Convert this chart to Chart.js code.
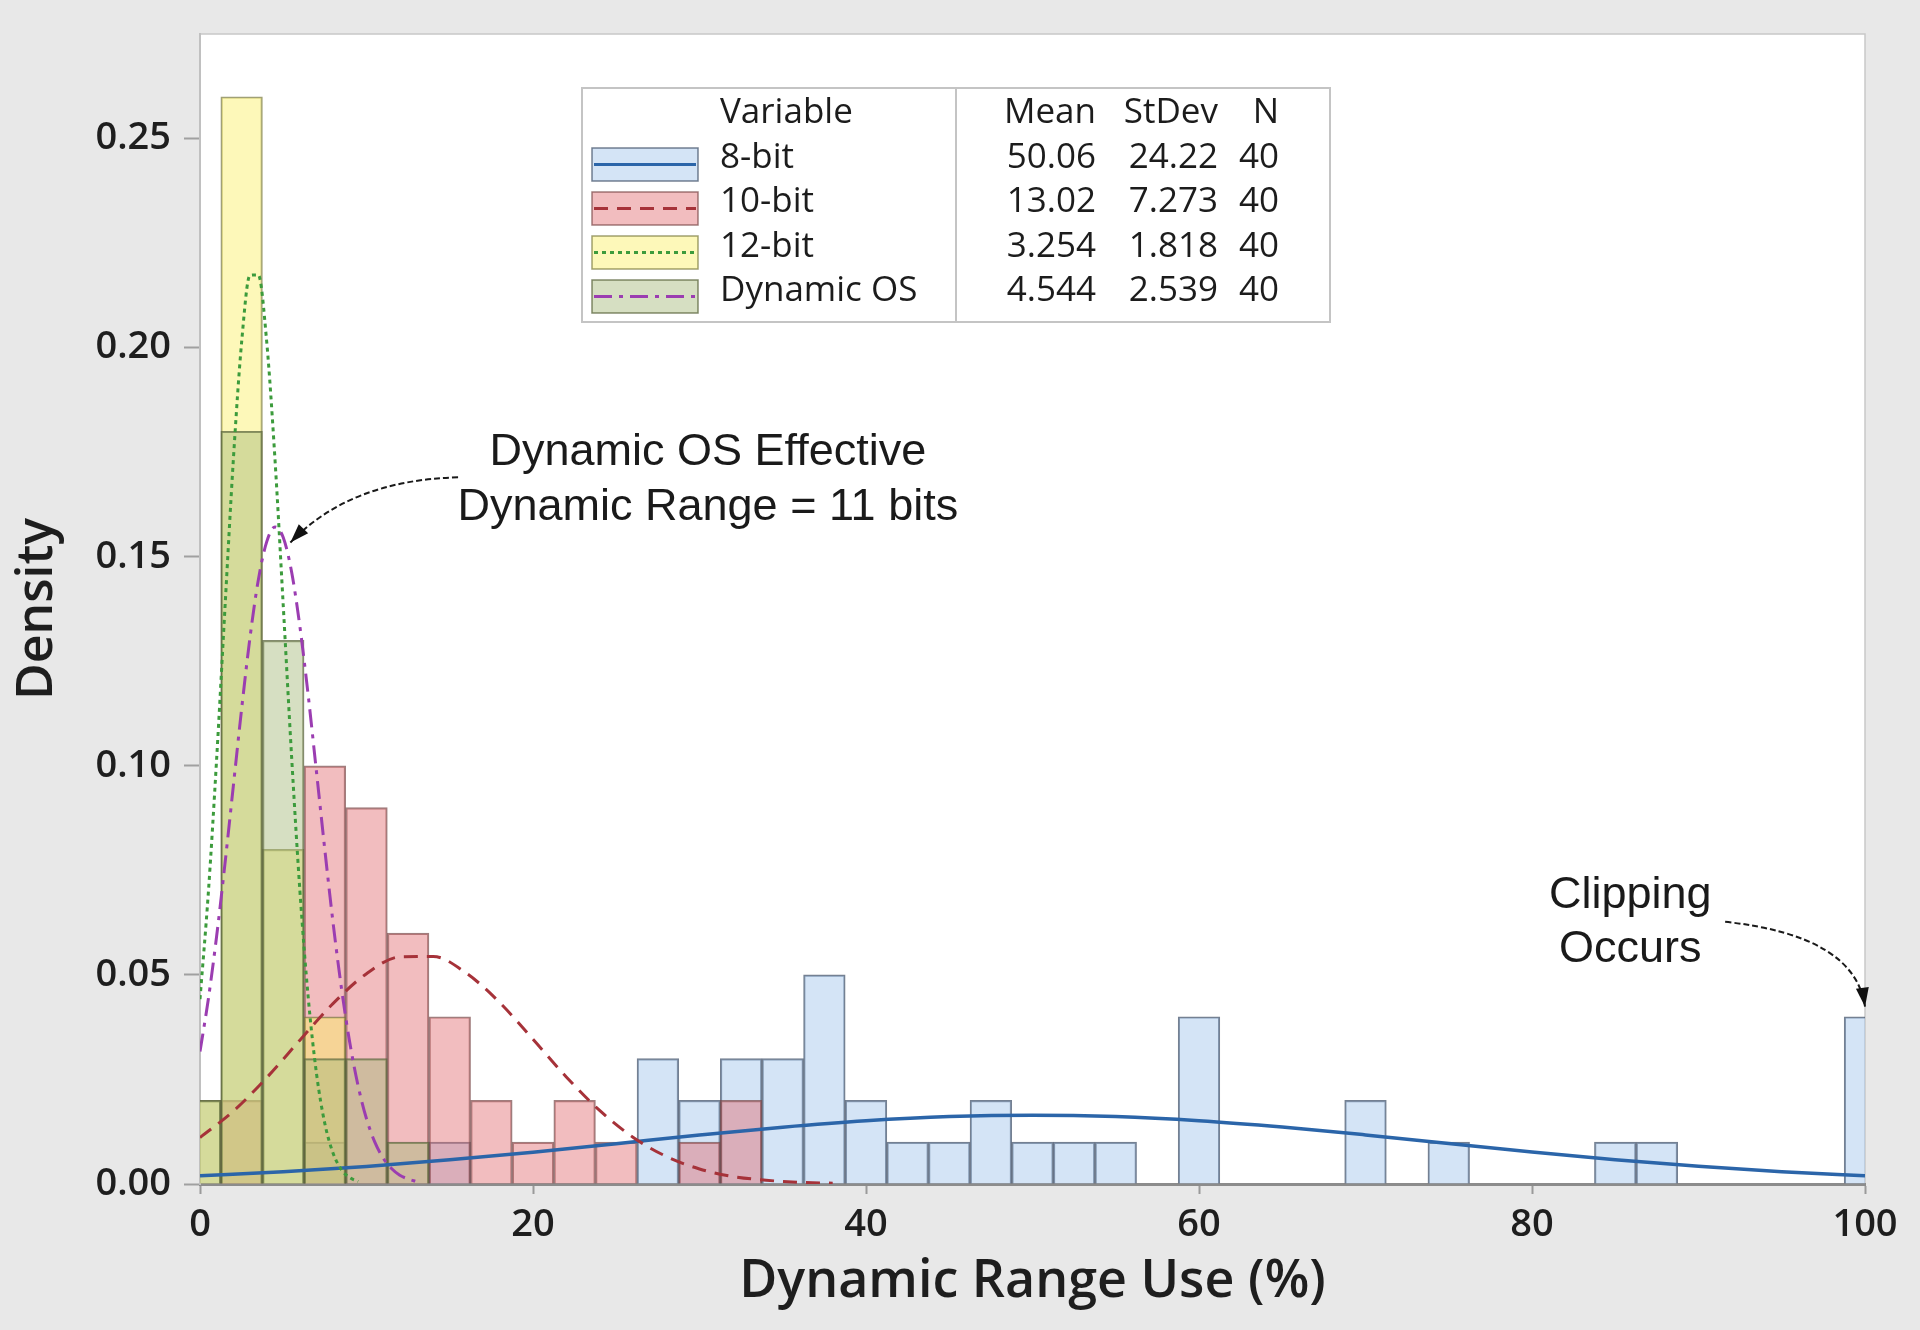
<!DOCTYPE html>
<html>
<head>
<meta charset="utf-8">
<title>Dynamic Range Use histogram</title>
<script src="https://cdn.jsdelivr.net/npm/chart.js@4.4.1/dist/chart.umd.min.js"></script>
<style>
  html, body { margin: 0; padding: 0; background: #e8e8e8; }
  #wrap { width: 1920px; height: 1330px; }
</style>
</head>
<body>
<div id="wrap"><canvas id="histChart"></canvas></div>
<script>
// histogram bins: centres in %, width 2.5, heights are density (count / (40 * 2.5))
const binCenters = [0, 2.5, 5, 7.5, 10, 12.5, 15, 17.5, 20, 22.5, 25, 27.5, 30, 32.5, 35, 37.5, 40,
  42.5, 45, 47.5, 50, 52.5, 55, 57.5, 60, 62.5, 65, 67.5, 70, 72.5, 75, 77.5, 80, 82.5, 85, 87.5,
  90, 92.5, 95, 97.5, 100];

const density8bit = [0, 0, 0, 0.01, 0, 0, 0.01, 0, 0, 0, 0, 0.03, 0.02, 0.03, 0.03, 0.05, 0.02,
  0.01, 0.01, 0.02, 0.01, 0.01, 0.01, 0, 0.04, 0, 0, 0, 0.02, 0, 0.01, 0, 0, 0, 0.01, 0.01,
  0, 0, 0, 0, 0.04];
const density10bit = [0, 0.02, 0, 0.10, 0.09, 0.06, 0.04, 0.02, 0.01, 0.02, 0.01, 0, 0.01, 0.02, 0, 0, 0,
  0, 0, 0, 0, 0, 0, 0, 0, 0, 0, 0, 0, 0, 0, 0, 0, 0, 0, 0,
  0, 0, 0, 0, 0];
const density12bit = [0.02, 0.26, 0.08, 0.04, 0, 0, 0, 0, 0, 0, 0, 0, 0, 0, 0, 0, 0,
  0, 0, 0, 0, 0, 0, 0, 0, 0, 0, 0, 0, 0, 0, 0, 0, 0, 0, 0,
  0, 0, 0, 0, 0];
const densityDynOS = [0.02, 0.18, 0.13, 0.03, 0.03, 0.01, 0, 0, 0, 0, 0, 0, 0, 0, 0, 0, 0,
  0, 0, 0, 0, 0, 0, 0, 0, 0, 0, 0, 0, 0, 0, 0, 0, 0, 0, 0,
  0, 0, 0, 0, 0];

// fitted normal curves
const curveX8 = [0, 5, 10, 15, 20, 25, 30, 35, 40, 45, 50, 55, 60, 65, 70, 75, 80, 85, 90, 95, 100];
const curve8bit = [0.00195, 0.00292, 0.00419, 0.00578, 0.00762, 0.00964, 0.01169, 0.01358, 0.01511,
  0.01612, 0.01647, 0.01613, 0.01514, 0.01362, 0.01174, 0.00969, 0.00767, 0.00582, 0.00423, 0.00295, 0.00197];

const curveX10 = [0, 2, 4, 6, 8, 10, 12, 14, 16, 18, 20, 22, 24, 26, 28, 30, 32, 34, 36, 38];
const curve10bit = [0.0111, 0.0174, 0.0254, 0.0344, 0.0432, 0.0503, 0.0543, 0.0544, 0.0504, 0.0434,
  0.0346, 0.0256, 0.0176, 0.0112, 0.0066, 0.0036, 0.0018, 0.0009, 0.0004, 0.0002];

const curveX12 = [0, 0.5, 1, 1.5, 2, 2.5, 3, 3.5, 4, 4.5, 5, 5.5, 6, 6.5, 7, 7.5, 8, 8.5, 9, 9.5];
const curve12bit = [0.0442, 0.0696, 0.1017, 0.1378, 0.1730, 0.2013, 0.2173, 0.2174, 0.2017, 0.1735,
  0.1383, 0.1023, 0.0701, 0.0446, 0.0263, 0.0144, 0.0073, 0.0034, 0.0015, 0.0006];

const curveXDyn = [0, 0.5, 1, 1.5, 2, 2.5, 3, 3.5, 4, 4.5, 5, 5.5, 6, 6.5, 7, 7.5, 8, 8.5, 9, 9.5,
  10, 10.5, 11, 11.5, 12, 12.5, 13];
const curveDynOS = [0.0317, 0.0442, 0.0593, 0.0766, 0.0951, 0.1136, 0.1306, 0.1444, 0.1535, 0.1571,
  0.1546, 0.1464, 0.1333, 0.1168, 0.0984, 0.0798, 0.0622, 0.0467, 0.0337, 0.0234, 0.0156, 0.0100,
  0.0062, 0.0037, 0.0021, 0.0012, 0.0006];

// legend table
const seriesNames = ['8-bit', '10-bit', '12-bit', 'Dynamic OS'];
const seriesMean = ['50.06', '13.02', '3.254', '4.544'];
const seriesStDev = ['24.22', '7.273', '1.818', '2.539'];
const seriesN = ['40', '40', '40', '40'];

const xTicks = [0, 20, 40, 60, 80, 100];
const yTicks = [0, 0.05, 0.10, 0.15, 0.20, 0.25];

const seriesStyle = [
  { fill: 'rgba(160,195,235,0.45)', edge: 'rgba(70,85,110,0.75)', line: '#2b65a9', dash: [], width: 3.5 },
  { fill: 'rgba(225,105,110,0.44)', edge: 'rgba(120,70,70,0.7)', line: '#a63239', dash: [14, 9], width: 3 },
  { fill: 'rgba(250,240,100,0.45)', edge: 'rgba(120,120,60,0.7)', line: '#3c9b3c', dash: [4, 4], width: 3 },
  { fill: 'rgba(165,185,120,0.45)', edge: 'rgba(90,100,60,0.75)', line: '#9b3db1', dash: [18, 7, 4, 7], width: 3 }
];

const densities = [density8bit, density10bit, density12bit, densityDynOS];
const curves = [[curveX8, curve8bit], [curveX10, curve10bit], [curveX12, curve12bit], [curveXDyn, curveDynOS]];

const barSets = densities.map((vals, i) => ({
  type: 'bar',
  label: seriesNames[i],
  data: binCenters.map((x, k) => ({ x: x, y: vals[k] })).filter(p => p.y > 0),
  backgroundColor: seriesStyle[i].fill,
  borderColor: seriesStyle[i].edge,
  borderWidth: 1.5,
  grouped: false,
  barPercentage: 1,
  categoryPercentage: 1,
  clip: 0,
  order: 13 - i
}));

const curveSets = curves.map(([xs, ys], i) => ({
  type: 'line',
  label: seriesNames[i] + ' fit',
  data: xs.map((x, k) => ({ x: x, y: ys[k] })),
  borderColor: seriesStyle[i].line,
  borderWidth: seriesStyle[i].width,
  borderDash: seriesStyle[i].dash,
  pointRadius: 0,
  fill: false,
  cubicInterpolationMode: 'monotone',
  clip: 0,
  order: 3 - i
}));

// annotations in data coordinates
const notes = [
  { lines: ['Dynamic OS Effective', 'Dynamic Range = 11 bits'], x: 30.5, y: [0.1719, 0.1589],
    arrow: { from: [15.5, 0.169], ctrl: [9.0, 0.1683], to: [5.43, 0.1534] } },
  { lines: ['Clipping', 'Occurs'], x: 85.9, y: [0.0661, 0.0531],
    arrow: { from: [91.6, 0.0627], ctrl: [99.4, 0.0594], to: [100, 0.0424] } }
];

const plotBackground = {
  id: 'plotBackground',
  beforeDraw(chart) {
    const { ctx, chartArea: a } = chart;
    ctx.save();
    ctx.fillStyle = '#e8e8e8';
    ctx.fillRect(0, 0, chart.width, chart.height);
    ctx.fillStyle = '#ffffff';
    ctx.fillRect(a.left, a.top, a.right - a.left, a.bottom - a.top);
    ctx.strokeStyle = '#c8c8c8';
    ctx.lineWidth = 1.5;
    ctx.strokeRect(a.left, a.top, a.right - a.left, a.bottom - a.top);
    ctx.restore();
  }
};

function drawArrow(ctx, p0, c, p1) {
  ctx.save();
  ctx.strokeStyle = '#1a1a1a';
  ctx.lineWidth = 2;
  ctx.setLineDash([6, 3]);
  ctx.beginPath();
  ctx.moveTo(p0[0], p0[1]);
  ctx.quadraticCurveTo(c[0], c[1], p1[0], p1[1]);
  ctx.stroke();
  const ang = Math.atan2(p1[1] - c[1], p1[0] - c[0]);
  const len = 20;
  ctx.setLineDash([]);
  ctx.fillStyle = '#111';
  ctx.beginPath();
  ctx.moveTo(p1[0], p1[1]);
  ctx.lineTo(p1[0] - len * Math.cos(ang - 0.33), p1[1] - len * Math.sin(ang - 0.33));
  ctx.lineTo(p1[0] - len * Math.cos(ang + 0.33), p1[1] - len * Math.sin(ang + 0.33));
  ctx.closePath();
  ctx.fill();
  ctx.restore();
}

const annotations = {
  id: 'annotations',
  afterDraw(chart) {
    const ctx = chart.ctx;
    const xs = chart.scales.x, ys = chart.scales.y;
    const px = v => xs.getPixelForValue(v);
    const py = v => ys.getPixelForValue(v);
    ctx.save();
    ctx.font = '45px "Liberation Sans", Arial, sans-serif';
    ctx.fillStyle = '#1a1a1a';
    ctx.textAlign = 'center';
    ctx.textBaseline = 'alphabetic';
    notes.forEach(n => {
      n.lines.forEach((t, k) => ctx.fillText(t, px(n.x), py(n.y[k])));
      const a = n.arrow;
      drawArrow(ctx, [px(a.from[0]), py(a.from[1])], [px(a.ctrl[0]), py(a.ctrl[1])], [px(a.to[0]), py(a.to[1])]);
    });
    ctx.restore();
  }
};

const legendBox = {
  id: 'legendBox',
  afterDraw(chart) {
    const ctx = chart.ctx;
    const a = chart.chartArea;
    const L = a.left + 382, T = a.top + 54, W = 748, H = 234, split = 374;
    ctx.save();
    ctx.fillStyle = '#ffffff';
    ctx.fillRect(L, T, W, H);
    ctx.strokeStyle = '#c4c4c4';
    ctx.lineWidth = 2;
    ctx.strokeRect(L, T, W, H);
    ctx.beginPath();
    ctx.moveTo(L + split, T);
    ctx.lineTo(L + split, T + H);
    ctx.stroke();

    ctx.font = '35px "Open Sans", sans-serif';
    ctx.fillStyle = '#1c1c1c';
    ctx.textBaseline = 'alphabetic';
    ctx.textAlign = 'left';
    ctx.fillText('Variable', L + 138, T + 35);
    ctx.textAlign = 'right';
    ctx.fillText('Mean', L + 514, T + 35);
    ctx.fillText('StDev', L + 636, T + 35);
    ctx.fillText('N', L + 697, T + 35);

    seriesNames.forEach((name, i) => {
      const sy = T + 60 + 44 * i;
      const st = seriesStyle[i];
      ctx.fillStyle = st.fill;
      ctx.fillRect(L + 10, sy, 106, 33);
      ctx.strokeStyle = st.edge;
      ctx.lineWidth = 1.5;
      ctx.setLineDash([]);
      ctx.strokeRect(L + 10, sy, 106, 33);
      ctx.strokeStyle = st.line;
      ctx.lineWidth = 3;
      ctx.setLineDash(st.dash);
      ctx.beginPath();
      ctx.moveTo(L + 12, sy + 16.5);
      ctx.lineTo(L + 114, sy + 16.5);
      ctx.stroke();
      ctx.setLineDash([]);

      const base = T + 80 + 44.3 * i;
      ctx.fillStyle = '#1c1c1c';
      ctx.textAlign = 'left';
      ctx.fillText(name, L + 138, base);
      ctx.textAlign = 'right';
      ctx.fillText(seriesMean[i], L + 514, base);
      ctx.fillText(seriesStDev[i], L + 636, base);
      ctx.fillText(seriesN[i], L + 697, base);
    });
    ctx.restore();
  }
};

const tickFont = { family: '"Open Sans", sans-serif', size: 38, weight: 600 };

const ctx = document.getElementById('histChart').getContext('2d');
const chart = new Chart(ctx, {
  type: 'bar',
  data: { datasets: [...curveSets, ...barSets] },
  options: {
    responsive: true,
    maintainAspectRatio: false,
    animation: false,
    layout: { padding: { top: 34, right: 55, bottom: 0, left: 0 } },
    plugins: {
      legend: { display: false },
      tooltip: { enabled: false }
    },
    scales: {
      x: {
        type: 'linear',
        min: 0,
        max: 100,
        offset: false,
        afterBuildTicks: s => { s.ticks = xTicks.map(v => ({ value: v })); },
        afterFit: s => { s.height = 146; s.paddingLeft = 0; s.paddingRight = 0; },
        grid: { offset: false, drawOnChartArea: false, drawTicks: true, tickLength: 10, tickWidth: 2, tickColor: '#9a9a9a' },
        border: { display: true, color: '#8c8c8c', width: 3 },
        ticks: { padding: 8, color: '#1e1e1e', font: tickFont, maxRotation: 0, autoSkip: false, callback: v => String(v) },
        title: {
          display: true, text: 'Dynamic Range Use (%)', color: '#1e1e1e',
          font: { family: '"Open Sans", sans-serif', size: 52, weight: 600 },
          padding: { top: 0, bottom: 17 }
        }
      },
      y: {
        type: 'linear',
        min: 0,
        max: 0.275,
        afterBuildTicks: s => { s.ticks = yTicks.map(v => ({ value: v })); },
        afterFit: s => { s.width = 200; s.paddingTop = 0; s.paddingBottom = 0; },
        grid: { drawOnChartArea: false, drawTicks: true, tickLength: 16, tickWidth: 2, tickColor: '#a0a0a0' },
        border: { display: true, color: '#c0c0c0', width: 2 },
        ticks: { padding: 13, color: '#1e1e1e', font: tickFont, autoSkip: false, callback: v => v.toFixed(2) },
        title: {
          display: true, text: 'Density', color: '#1e1e1e',
          font: { family: '"Open Sans", sans-serif', size: 50, weight: 600 },
          padding: { top: 8, bottom: 0 }
        }
      }
    }
  },
  plugins: [plotBackground, annotations, legendBox]
});
</script>
</body>
</html>
